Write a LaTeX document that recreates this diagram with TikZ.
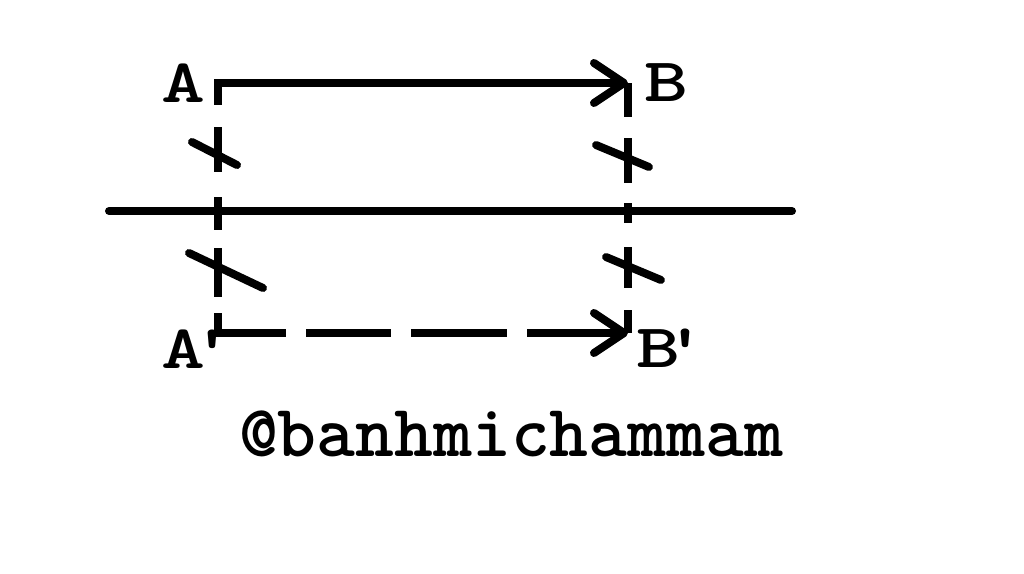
\documentclass[tikz,border=0pt]{standalone}
\usepackage{fontspec}
\usetikzlibrary{arrows.meta}
\newcommand{\widelbl}[1]{\scalebox{1.35}[1]{#1}}
\tikzset{
  thick line/.style={line width=8pt, black},
  barb/.style={-{Straight Barb[length=30pt,width=40pt,round]}},
  lbl/.style={inner sep=0pt, anchor=base west, font=\fontsize{62}{62}\selectfont\ttfamily\bfseries},
}
\begin{document}
\begin{tikzpicture}[x=1pt,y=-1pt]
\useasboundingbox[fill=white] (0,0) rectangle (1024,573);
% corners
\coordinate (A) at (218,83);
\coordinate (B) at (628,83);
\coordinate (A2) at (218,333);
\coordinate (B2) at (628,333);
\coordinate (Astart) at (214,83);
\coordinate (A2start) at (214,333);
\coordinate (axL) at (109,211);
\coordinate (axR) at (792,211);
% labels
\node[lbl] (la) at (161,102) {\widelbl{A}};
\node[lbl] (lb) at (644,101) {\widelbl{B}};
\node[lbl] (la2) at (161,368) {\widelbl{A\kern-11pt'}};
\node[lbl] (lb2) at (636,367) {\widelbl{B\kern-12pt'}};
% axis
\draw[thick line, line cap=round] (axL) -- (axR);
% top arrow
\draw[thick line, barb] (Astart) -- (B);
% left vertical dashed
\draw[thick line, dash pattern={on 22pt off 22pt on 45pt off 25pt on 33pt off 18pt on 49pt off 16pt on 40pt}] (A) -- (A2);
% right vertical dashed
\draw[thick line, dash pattern={on 34pt off 21pt on 45pt off 20pt on 20pt off 24pt on 41pt off 22pt on 40pt}] (B) -- (B2);
% bottom dashed arrow
\draw[thick line, barb, dash pattern={on 72pt off 20pt on 85pt off 20pt on 96pt off 20pt on 120pt}] (A2start) -- (B2);
% tick marks
\draw[thick line, line cap=round] (192,142) -- (237,165);
\draw[thick line, line cap=round] (189,253) -- (263,288);
\draw[thick line, line cap=round] (596,145) -- (649,167);
\draw[thick line, line cap=round] (606,257) -- (661,280);
% watermark
\node[inner sep=0pt, anchor=base, font=\fontsize{74}{74}\selectfont\ttfamily\bfseries] (wm) at (511,456) {@banhmichammam};
\end{tikzpicture}
\end{document}
